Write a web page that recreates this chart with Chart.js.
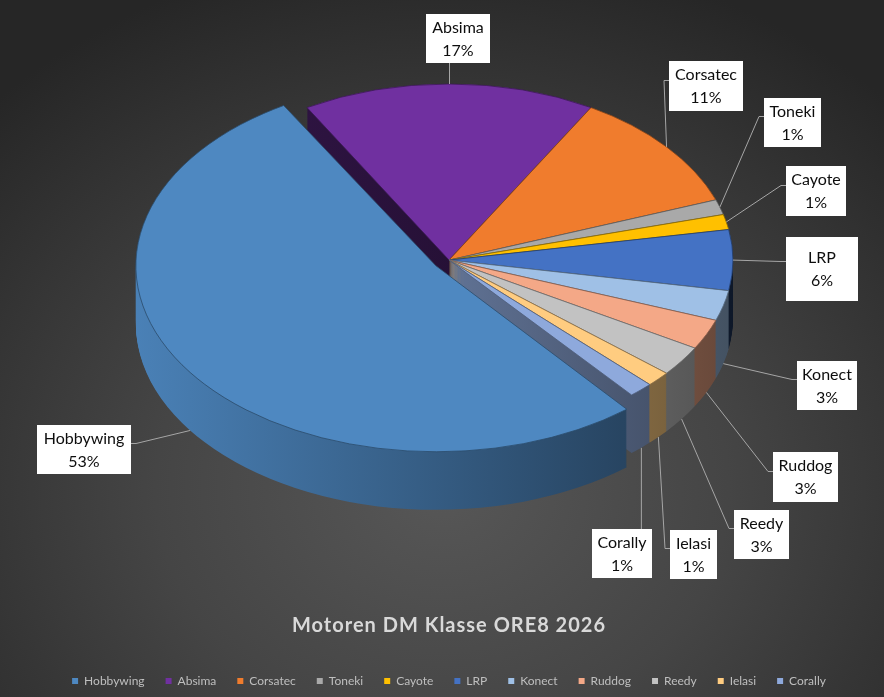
<!DOCTYPE html>
<html lang="de">
<head>
  <meta charset="UTF-8" />
  <title>Motoren DM Klasse ORE8 2026</title>
  <script src="https://cdn.jsdelivr.net/npm/chart.js"></script>
  <style>
    html, body { margin: 0; padding: 0; }
    body {
      width: 884px; height: 697px; overflow: hidden;
      background: radial-gradient(ellipse 72% 78% at 50% 70%, #575757 0%, #454545 45%, #262626 100%);
    }
    #wrap { position: relative; width: 884px; height: 697px; }
  </style>
</head>
<body>
  <div id="wrap"><canvas id="motorChart"></canvas></div>

  <script>
    // data (counts give the shown percentages)
    const brands = ['Hobbywing', 'Absima', 'Corsatec', 'Toneki', 'Cayote', 'LRP',
                    'Konect', 'Ruddog', 'Reedy', 'Ielasi', 'Corally'];
    const motorCounts = [38, 12, 8, 1, 1, 4, 2, 2, 2, 1, 1];

    // styling
    const brandColors = ['#4e88c1', '#7030a0', '#f07c2d', '#a9a9a9', '#ffc000', '#4472c4',
                         '#9fc0e6', '#f4a887', '#c2c2c2', '#ffcc80', '#8ea9dc'];
    const explodeBy = [64, 0, 0, 0, 0, 0, 0, 0, 0, 0, 0];
    // data label boxes: [left, top, width, height]
    const labelBoxes = [
      [37, 425, 94, 49], [426, 14, 64, 49], [669, 61, 74, 50], [764, 98, 57, 49],
      [786, 166, 60, 50], [786, 237, 72, 64], [797, 361, 60, 49], [773, 452, 65, 50],
      [734, 510, 55, 49], [670, 530, 47, 49], [592, 529, 60, 49]
    ];

    const TILT = 0.62;   // vertical squash of the pie
    const DEPTH = 58;    // thickness of the 3D wall, px

    function shade(hex, f) {
      const n = parseInt(hex.slice(1), 16);
      const r = Math.round(((n >> 16) & 255) * f);
      const g = Math.round(((n >> 8) & 255) * f);
      const b = Math.round((n & 255) * f);
      return `rgb(${r},${g},${b})`;
    }

    function projection(chart) {
      const a = chart.getDatasetMeta(0).data[0];
      return { cx: a.x, cy: a.y, R: a.outerRadius, cyT: chart.chartArea.top + a.outerRadius * TILT };
    }

    function applyTilt(ctx, p) {
      ctx.translate(p.cx, p.cyT);
      ctx.scale(1, TILT);
      ctx.translate(-p.cx, -p.cy);
    }

    const pie3d = {
      id: 'pie3d',
      beforeDatasetsDraw(chart) {
        const ctx = chart.ctx;
        const p = projection(chart);
        const arcs = chart.getDatasetMeta(0).data;
        // side walls: the library's arcs drawn again, darker and pushed down
        const walls = arcs.map((arc, i) => {
          const back = Math.sin((arc.startAngle + arc.endAngle) / 2) < 0 ? 0.5 : 1;
          const g = ctx.createLinearGradient(p.cx - p.R - 20, 0, p.cx + p.R, 0);
          g.addColorStop(0, shade(brandColors[i], 0.95 * back));
          g.addColorStop(1, shade(brandColors[i], 0.42 * back));
          const w = Object.create(arc);
          w.options = Object.assign({}, arc.options, { backgroundColor: g, borderWidth: 0 });
          return w;
        });
        for (let d = DEPTH; d >= 1; d--) {
          ctx.save();
          ctx.translate(0, d);
          applyTilt(ctx, p);
          walls.forEach(w => w.draw(ctx));
          ctx.restore();
        }
        ctx.save();
        applyTilt(ctx, p);
      },
      afterDatasetsDraw(chart) {
        chart.ctx.restore();
      },
      afterDraw(chart) {
        const ctx = chart.ctx;
        const p = projection(chart);
        const arcs = chart.getDatasetMeta(0).data;
        const total = motorCounts.reduce((s, v) => s + v, 0);
        ctx.save();
        arcs.forEach((arc, i) => {
          const mid = (arc.startAngle + arc.endAngle) / 2;
          const shift = (arc.options.offset || 0) / 4;
          const fix = 1 - Math.sin(Math.min(Math.PI, arc.circumference));
          const r = arc.outerRadius + shift + shift * fix;
          const ux = arc.x + Math.cos(mid) * r;
          const uy = arc.y + Math.sin(mid) * r;
          const s = Math.sin(mid);
          const ax = ux;
          const ay = p.cyT + (uy - p.cy) * TILT + (s > 0 ? DEPTH * Math.min(1, s * 4) : 0);

          const [bx, by, bw, bh] = labelBoxes[i];
          ctx.strokeStyle = '#a6a6a6';
          ctx.lineWidth = 1;
          ctx.beginPath();
          if (ax >= bx && ax <= bx + bw) {
            const yEdge = ay < by ? by : by + bh;
            ctx.moveTo(ax + 0.5, yEdge);
            ctx.lineTo(ax + 0.5, ay);
          } else {
            const left = ax < bx;
            const ex = left ? bx : bx + bw;
            const ey = Math.round(by + bh * 0.37) + 0.5;
            ctx.moveTo(ex, ey);
            ctx.lineTo(ex + (left ? -5 : 5), ey);
            ctx.lineTo(ax, ay);
          }
          ctx.stroke();

          ctx.fillStyle = '#ffffff';
          ctx.fillRect(bx, by, bw, bh);
          ctx.fillStyle = '#0d0d0d';
          ctx.font = '16px Lato';
          ctx.textAlign = 'center';
          ctx.textBaseline = 'middle';
          const pct = Math.round(motorCounts[i] / total * 100) + '%';
          ctx.fillText(brands[i], bx + bw / 2, by + bh / 2 - 11);
          ctx.fillText(pct, bx + bw / 2, by + bh / 2 + 12);
        });
        ctx.restore();
      }
    };

    const ctx = document.getElementById('motorChart').getContext('2d');
    const chart = new Chart(ctx, {
      type: 'pie',
      data: {
        labels: brands,
        datasets: [{
          data: motorCounts,
          backgroundColor: brandColors,
          borderColor: brandColors.map(c => shade(c, 0.55)),
          borderWidth: 1,
          offset: explodeBy,
          clip: false
        }]
      },
      options: {
        responsive: true,
        maintainAspectRatio: false,
        animation: false,
        rotation: 140,
        radius: 284,
        layout: { padding: { left: 14, right: 0, top: 84, bottom: 0 } },
        plugins: {
          tooltip: { enabled: false },
          title: {
            display: true,
            text: 'Motoren DM Klasse ORE8 2026',
            position: 'bottom',
            weight: 500,
            color: '#d9d9d9',
            font: { family: 'Lato', size: 20, weight: 'bold' },
            padding: { top: 10, bottom: 16 }
          },
          legend: {
            position: 'bottom',
            labels: {
              color: '#bfbfbf',
              boxWidth: 6,
              boxHeight: 6,
              padding: 21,
              font: { family: 'Lato', size: 12 },
              generateLabels(chart) {
                const items = Chart.overrides.pie.plugins.legend.labels.generateLabels(chart);
                return items.map(it => Object.assign(it, { lineWidth: 0, strokeStyle: 'rgba(0,0,0,0)' }));
              }
            }
          }
        }
      },
      plugins: [pie3d]
    });

    // spaced-out title, as in the original
    const drawTitle = chart.titleBlock.draw.bind(chart.titleBlock);
    chart.titleBlock.draw = function (area) {
      this.ctx.save();
      this.ctx.letterSpacing = '1px';
      drawTitle(area);
      this.ctx.restore();
    };
    chart.draw();
  </script>
</body>
</html>
